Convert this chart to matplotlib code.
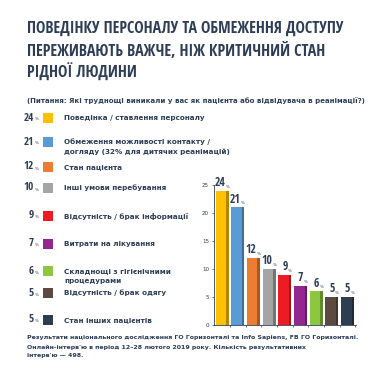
import matplotlib.pyplot as plt
import matplotlib.colors as mcolors
from matplotlib import font_manager
from matplotlib.font_manager import FontProperties
from matplotlib.ft2font import FT2Font
from matplotlib.textpath import TextPath
import numpy as np

# дані
categories = [
    "Поведінка / ставлення персоналу",
    "Обмеження можливості контакту /\nдогляду (32% для дитячих реанімацій)",
    "Стан пацієнта",
    "Інші умови перебування",
    "Відсутність / брак інформації",
    "Витрати на лікування",
    "Складнощі з гігієнічними\nпроцедурами",
    "Відсутність / брак одягу",
    "Стан інших пацієнтів",
]
values = [24, 21, 12, 10, 9, 7, 6, 5, 5]
colors = ["#FFC000", "#5B9BD5", "#ED7D31", "#A5A5A5", "#ED1C24",
          "#92278F", "#8DC63F", "#5C4A42", "#2C3E50"]
yticks = [0, 5, 10, 15, 20, 25]

title = ("ПОВЕДІНКУ ПЕРСОНАЛУ ТА ОБМЕЖЕННЯ ДОСТУПУ\n"
         "ПЕРЕЖИВАЮТЬ ВАЖЧЕ, НІЖ КРИТИЧНИЙ СТАН\n"
         "РІДНОЇ ЛЮДИНИ")
subtitle = "(Питання: Які труднощі виникали у вас як пацієнта або відвідувача в реанімації?)"
footer = ("Результати національного дослідження ГО Горизонталі та Info Sapiens, FB ГО Горизонталі.\n"
          "Онлайн-інтерв'ю в період 12–28 лютого 2019 року. Кількість результативних\n"
          "інтерв'ю — 498.")

W = H = 380
TXT = "#2D3E56"
first_line = title.split("\n")[0]
needed = set(title.replace("\n", "").replace(" ", "")) | set("0123456789")
families = ("DejaVu", "Liberation", "Noto Sans", "Roboto", "Open Sans", "Lato", "Inter")


# шукаємо найвужчий жирний шрифт з кирилицею
def pick_condensed():
    best, best_w = None, None
    for f in font_manager.fontManager.ttflist:
        if "CJK" in f.name or not f.name.startswith(families):
            continue
        w8 = f.weight if isinstance(f.weight, int) else 700 if "bold" in str(f.weight) else 400
        if w8 < 600 or f.style != "normal" or "Mono" in f.name or "Serif" in f.name:
            continue
        try:
            cmap = FT2Font(f.fname).get_charmap()
            if not all(ord(c) in cmap for c in needed):
                continue
            tp = TextPath((0, 0), first_line, size=10, prop=FontProperties(fname=f.fname))
            ext = tp.get_extents()
            ratio = ext.width / max(ext.height, 1e-6)
        except Exception:
            continue
        if best_w is None or ratio < best_w:
            best, best_w = f.fname, ratio
    return best


cond_file = pick_condensed()
COND_PROP = FontProperties(fname=cond_file) if cond_file else FontProperties(weight="bold")
tp = TextPath((0, 0), first_line, size=10, prop=COND_PROP)
title_size = 10 * (320 * 72 / 100) / tp.get_extents().width
title_size = min(title_size, 11.5)


def px(x, y):
    return x / W, 1 - y / H


fig = plt.figure(figsize=(3.8, 3.8), dpi=100)
fig.patch.set_facecolor("white")

# заголовок
for i, line in enumerate(title.split("\n")):
    fig.text(*px(27, 29 + i * 22), line, color=TXT, fontproperties=COND_PROP,
             fontsize=title_size, va="center", ha="left")
fig.text(*px(27, 101), subtitle, color=TXT, fontsize=5.0,
         weight="bold", va="center", ha="left")

# легенда зліва
row_y = [118, 142, 167, 188, 216, 244, 271, 293, 320]
for cat, val, col, y in zip(categories, values, colors, row_y):
    fig.text(*px(34, y), str(val), color=TXT, fontproperties=COND_PROP,
             fontsize=8, va="center", ha="right")
    fig.text(*px(34.5, y + 1.5), "%", color=TXT, fontsize=3,
             va="center", ha="left")
    fig.patches.append(plt.Rectangle(px(43, y + 5), 9.5 / W, 10 / H,
                                     transform=fig.transFigure,
                                     facecolor=col, edgecolor="none"))
    for j, line in enumerate(cat.split("\n")):
        fig.text(*px(64, y + j * 9.5), line, color=TXT, fontsize=5.2,
                 weight="bold", va="center", ha="left")

# стовпчикова діаграма
ax = fig.add_axes([214 / W, 1 - 325 / H, 142 / W, 140 / H])
x = np.arange(len(values))
bw = 0.83
for xi, val, col in zip(x, values, colors):
    dark = np.array(mcolors.to_rgb(col)) * 0.7
    ax.bar(xi, val, width=bw, color=col, edgecolor="none")
    ax.bar(xi + bw / 2 - 0.08, val, width=0.16, color=dark, edgecolor="none")
    ax.text(xi + 0.18, val + 0.3, str(val), color=TXT, fontproperties=COND_PROP,
            fontsize=8.5, ha="right", va="bottom", clip_on=False)
    ax.text(xi + 0.2, val + 0.35, "%", color=TXT, fontsize=3,
            ha="left", va="bottom", clip_on=False)

ax.set_xlim(-0.52, 8.54)
ax.set_ylim(0, 25)
ax.set_yticks(yticks)
ax.tick_params(axis="y", labelsize=4, colors=TXT, length=1.5, width=0.5, pad=2)
ax.set_xticks(x + 0.5)
ax.set_xticklabels([])
ax.tick_params(axis="x", length=1.5, width=0.5, colors=TXT, direction="out")
for s in ["top", "right"]:
    ax.spines[s].set_visible(False)
for s in ["left", "bottom"]:
    ax.spines[s].set_color(TXT)
    ax.spines[s].set_linewidth(0.6)

# джерело
for i, line in enumerate(footer.split("\n")):
    fig.text(*px(27, 338 + i * 9), line, color=TXT, fontsize=4.5,
             weight="bold", va="center", ha="left")

fig.savefig("out.png", dpi=100, facecolor="white")
